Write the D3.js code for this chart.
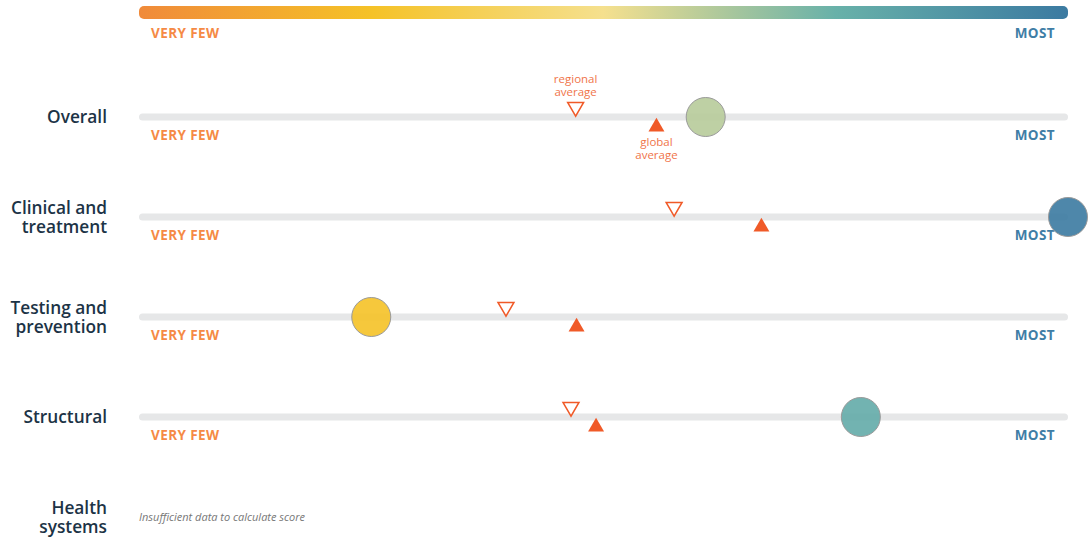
<!DOCTYPE html>
<html>
<head>
<meta charset="utf-8">
<script src="https://cdn.jsdelivr.net/npm/d3@7"></script>
<style>
  body { margin: 0; background: #fff; }
  svg { display: block; }
</style>
</head>
<body>
<div id="chart"></div>
<script>
// data
var categories = ["Overall", "Clinical and\ntreatment", "Testing and\nprevention", "Structural", "Health\nsystems"];
var scores = [61, 100, 25, 77.7, null];
var regional = [47, 57.6, 39.5, 46.5, null];
var global = [55.7, 67, 47.1, 49.2, null];
var lowLabel = "VERY FEW", highLabel = "MOST";
var missingText = "Insufficient data to calculate score";

var width = 1089, height = 537;
var svg = d3.select("#chart").append("svg")
    .attr("width", width)
    .attr("height", height);

var x = d3.scaleLinear().domain([0, 100]).range([139, 1068]);
var y = d3.scalePoint().domain(d3.range(categories.length)).range([117, 517]);

var stops = ["#f08a3a", "#f5c227", "#f5e08e", "#68b1a9", "#3b7aa1"];
var color = d3.scaleLinear().domain([0, 25, 50, 75, 100]).range(stops);

var defs = svg.append("defs");
var grad = defs.append("linearGradient").attr("id", "grad");
stops.forEach(function(c, i) {
  grad.append("stop").attr("offset", (i * 25) + "%").attr("stop-color", c);
});

// top legend bar
svg.append("rect")
    .attr("x", x(0)).attr("y", 6)
    .attr("width", x(100) - x(0)).attr("height", 13)
    .attr("rx", 5)
    .attr("fill", "url(#grad)");

function endLabels(yy) {
  svg.append("text").attr("x", 151).attr("y", yy)
      .attr("font-family", "'Open Sans', sans-serif").attr("font-weight", 700)
      .attr("font-size", 13.5).attr("letter-spacing", 0.4)
      .attr("fill", "#f58a45").text(lowLabel);
  svg.append("text").attr("x", 1055).attr("y", yy)
      .attr("text-anchor", "end")
      .attr("font-family", "'Open Sans', sans-serif").attr("font-weight", 700)
      .attr("font-size", 13.5).attr("letter-spacing", 0.4)
      .attr("fill", "#3f7ea6").text(highLabel);
}
endLabels(38);

var tri = d3.symbol().type(d3.symbolTriangle).size(110);

categories.forEach(function(cat, i) {
  var cy = y(i);
  var lines = cat.split("\n");
  var lab = svg.append("text")
      .attr("x", 107)
      .attr("text-anchor", "end")
      .attr("font-family", "'Open Sans', sans-serif")
      .attr("font-weight", 600)
      .attr("font-size", 17.3)
      .attr("fill", "#1c3346");
  lines.forEach(function(l, k) {
    lab.append("tspan").attr("x", 107)
        .attr("y", cy + 6 - (lines.length - 1) * 9.5 + k * 19)
        .text(l);
  });

  if (scores[i] == null) {
    svg.append("text").attr("x", 139).attr("y", cy + 4)
        .attr("font-family", "'Open Sans', sans-serif")
        .attr("font-style", "italic")
        .attr("font-size", 11).attr("fill", "#777")
        .text(missingText);
    return;
  }

  svg.append("rect")
      .attr("x", x(0)).attr("width", x(100) - x(0))
      .attr("y", cy - 3.5).attr("height", 7).attr("rx", 3.5)
      .attr("fill", "#e6e7e8");

  endLabels(cy + 23);

  // regional average (open, pointing down)
  svg.append("path")
      .attr("d", tri)
      .attr("transform", "translate(" + x(regional[i]) + "," + (cy - 10) + ") rotate(180)")
      .attr("fill", "#fff").attr("stroke", "#f05a28").attr("stroke-width", 1.5);

  // global average (filled, pointing up)
  svg.append("path")
      .attr("d", tri)
      .attr("transform", "translate(" + x(global[i]) + "," + (cy + 10) + ")")
      .attr("fill", "#f05a28");

  svg.append("circle")
      .attr("cx", x(scores[i])).attr("cy", cy).attr("r", 19.5)
      .attr("fill", color(scores[i])).attr("fill-opacity", 0.9)
      .attr("stroke", "#9a9a9a").attr("stroke-width", 1);

  if (i === 0) {
    svg.append("text").attr("x", x(regional[i])).attr("text-anchor", "middle")
        .attr("font-family", "'Open Sans', sans-serif").attr("font-size", 11.5).attr("fill", "#f0744a")
        .selectAll("tspan").data(["regional", "average"]).enter().append("tspan")
        .attr("x", x(regional[i])).attr("y", function(d, k) { return 83 + k * 12.5; })
        .text(function(d) { return d; });
    svg.append("text").attr("x", x(global[i])).attr("text-anchor", "middle")
        .attr("font-family", "'Open Sans', sans-serif").attr("font-size", 11.5).attr("fill", "#f0744a")
        .selectAll("tspan").data(["global", "average"]).enter().append("tspan")
        .attr("x", x(global[i])).attr("y", function(d, k) { return 146 + k * 12.5; })
        .text(function(d) { return d; });
  }
});
</script>
</body>
</html>
